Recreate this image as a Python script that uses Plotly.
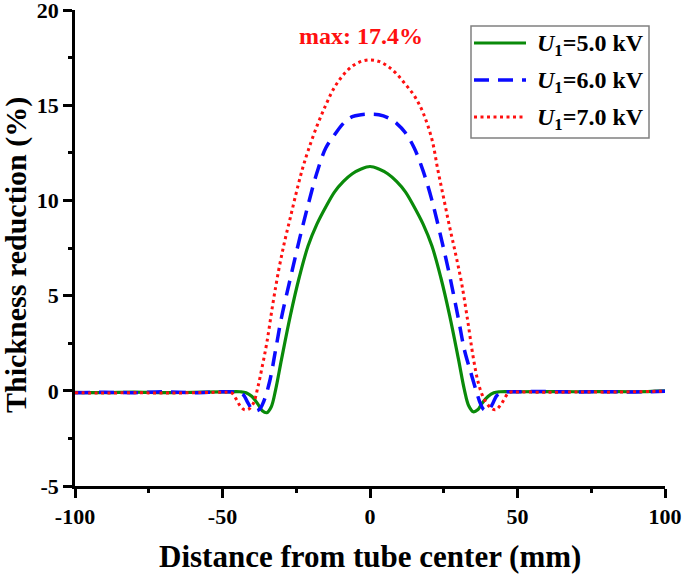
import plotly.graph_objects as go

# ---- data ----
x_u5 = [-100, -90, -80, -70, -60, -50, -44, -42, -40, -38, -36.5, -35, -33.5, -32, -30, -27, -24, -21, -18, -15, -12, -9, -6, -3, 0,
        3, 6, 9, 12, 15, 18, 21, 24, 27, 30, 32, 33.5, 35, 36.5, 38, 40, 42, 44, 50, 60, 70, 80, 90, 100]
y_u5 = [-0.08, -0.1, -0.07, -0.1, -0.08, -0.06, -0.05, -0.1, -0.3, -0.7, -1.05, -1.15, -0.85, 0.05, 1.65, 3.95, 5.95, 7.6, 8.75, 9.65, 10.45, 11.0, 11.4, 11.65, 11.78,
        11.65, 11.4, 11.0, 10.45, 9.65, 8.75, 7.6, 5.95, 3.95, 1.65, 0.05, -0.8, -1.1, -1.0, -0.65, -0.3, -0.1, -0.05, -0.05, -0.04, -0.05, -0.04, -0.05, 0.0]

x_u6 = [-100, -90, -80, -70, -60, -50, -45, -43, -41.5, -39.5, -37.5, -36, -34, -32, -30, -27, -24, -21, -18, -15, -12, -9, -6, -3, 0,
        3, 6, 9, 12, 15, 18, 21, 24, 27, 30, 32, 34, 36, 37.5, 38.5, 40, 41.5, 43, 45, 50, 60, 70, 80, 90, 100]
y_u6 = [-0.1, -0.08, -0.1, -0.05, -0.1, -0.05, -0.08, -0.2, -0.6, -1.05, -0.98, -0.55, 0.5, 2.15, 3.85, 5.9, 7.9, 9.75, 11.45, 12.75, 13.45, 14.05, 14.4, 14.5, 14.53,
        14.5, 14.35, 14.05, 13.55, 12.75, 11.55, 10.0, 8.1, 6.05, 3.75, 2.15, 1.05, 0.0, -0.7, -0.98, -1.05, -0.7, -0.25, -0.08, -0.05, -0.04, -0.06, -0.05, -0.06, -0.02]

x_u7 = [-100, -90, -80, -70, -60, -50, -47, -45.5, -44, -42.5, -41, -39.5, -38, -36.5, -35, -33, -31, -29, -27, -25, -23, -21, -18, -15, -12, -9, -6, -3, 0,
        3, 6, 9, 12, 15, 18, 21, 23, 25, 27, 29, 31, 33, 35, 36.5, 38, 39.5, 41, 42.5, 44, 45.5, 47, 50, 60, 70, 80, 90, 100]
y_u7 = [-0.1, -0.12, -0.1, -0.12, -0.1, -0.08, -0.1, -0.4, -0.8, -1.0, -0.95, -0.65, 0.2, 1.3, 2.5, 4.5, 6.3, 7.8, 9.1, 10.4, 11.6, 12.6, 13.9, 15.0, 15.95, 16.6, 17.05, 17.3, 17.38,
        17.3, 17.05, 16.65, 16.1, 15.5, 14.6, 13.2, 11.6, 10.1, 8.6, 7.2, 5.7, 3.8, 1.75, 0.55, -0.2, -0.65, -0.9, -1.0, -0.8, -0.45, -0.1, -0.06, -0.08, -0.06, -0.07, -0.05, -0.02]

series_names = ["<i>U</i><sub>1</sub>=5.0 kV", "<i>U</i><sub>1</sub>=6.0 kV", "<i>U</i><sub>1</sub>=7.0 kV"]
series_colors = ["#0a8a0a", "#0b0bff", "#ff1010"]
series_dash = ["solid", "15px,9px", "3px,3.5px"]
series_width = [3.2, 3.5, 3.0]
x_ticks = [-100, -50, 0, 50, 100]
x_ticktext = ["-100", "-50", "0", "50", "100"]
y_ticks = [-5, 0, 5, 10, 15, 20]
y_ticktext = ["-5", "0", "5", "10", "15", "20"]
max_label = "max: 17.4%"
x_title = "Distance from tube center (mm)"
y_title = "Thickness reduction (%)"

FONT = "Liberation Serif"

fig = go.Figure()
for xs, ys, nm, c, d, w in zip([x_u5, x_u6, x_u7], [y_u5, y_u6, y_u7], series_names,
                               series_colors, series_dash, series_width):
    fig.add_trace(go.Scatter(x=xs, y=ys, mode="lines", name=nm, showlegend=False,
                             line=dict(color=c, width=w, dash=d, shape="spline", smoothing=1.0)))

fig.add_annotation(x=0, y=17.4, xref="x", yref="y", text="<b>" + max_label + "</b>",
                   showarrow=False, yshift=24, xshift=-9,
                   font=dict(family=FONT, size=24, color="#ff1010"))

# ---- manual legend (box, samples, labels) in paper coordinates ----
PL, PR, PT, PB = 75, 665, 10, 486
W, H = 685, 577
def px(xp):
    return (xp - PL) / (PR - PL)
def py(yp):
    return (PB - yp) / (PB - PT)

fig.add_shape(type="rect", xref="paper", yref="paper",
              x0=px(471), x1=px(649), y0=py(138), y1=py(26),
              line=dict(color="#808080", width=1.5), fillcolor="white", layer="above")
row_y = [43, 80, 117]
for i in range(3):
    fig.add_shape(type="line", xref="paper", yref="paper",
                  x0=px(474), x1=px(526), y0=py(row_y[i]), y1=py(row_y[i]),
                  line=dict(color=series_colors[i], width=series_width[i], dash=series_dash[i]),
                  layer="above")
    fig.add_annotation(xref="paper", yref="paper", x=px(535), y=py(row_y[i] + 2),
                       xanchor="left", yanchor="middle", showarrow=False,
                       text="<b>" + series_names[i] + "</b>",
                       font=dict(family=FONT, size=24, color="black"))

# ---- axis titles ----
fig.add_annotation(xref="paper", yref="paper", x=px(370), y=py(556), xanchor="center", yanchor="middle",
                   showarrow=False, text="<b>" + x_title + "</b>",
                   font=dict(family=FONT, size=31, color="black"))
fig.add_annotation(xref="paper", yref="paper", x=px(16), y=py(255), xanchor="center", yanchor="middle",
                   showarrow=False, text="<b>" + y_title + "</b>", textangle=-90,
                   font=dict(family=FONT, size=30, color="black"))

axis_common = dict(
    showline=True, linecolor="black", linewidth=2.5,
    ticks="outside", ticklen=9, tickwidth=2.5, tickcolor="black",
    showgrid=False, zeroline=False, mirror=False, automargin=False,
    ticklabeloverflow="allow",
    tickfont=dict(family=FONT, size=22, color="black", weight="bold"),
)

fig.update_xaxes(range=[-100, 100], tickmode="array", tickvals=x_ticks, ticktext=x_ticktext,
                 minor=dict(ticks="outside", ticklen=4, tickwidth=2.5, tickcolor="black",
                            showgrid=False, dtick=25, tick0=-100),
                 **axis_common)
fig.update_yaxes(range=[-5, 20], tickmode="array", tickvals=y_ticks, ticktext=y_ticktext,
                 minor=dict(ticks="outside", ticklen=4, tickwidth=2.5, tickcolor="black",
                            showgrid=False, dtick=2.5, tick0=-5),
                 **axis_common)

fig.update_layout(
    width=W, height=H, autosize=False,
    margin=dict(l=PL, r=W - PR, t=PT, b=H - PB),
    plot_bgcolor="white", paper_bgcolor="white",
    font=dict(family=FONT, color="black"),
    showlegend=False,
)

fig.write_html("out.html", config={"displayModeBar": False},
               post_script="document.body.style.margin='0px';document.body.style.padding='0px';"
                           "document.body.style.overflow='hidden';")
